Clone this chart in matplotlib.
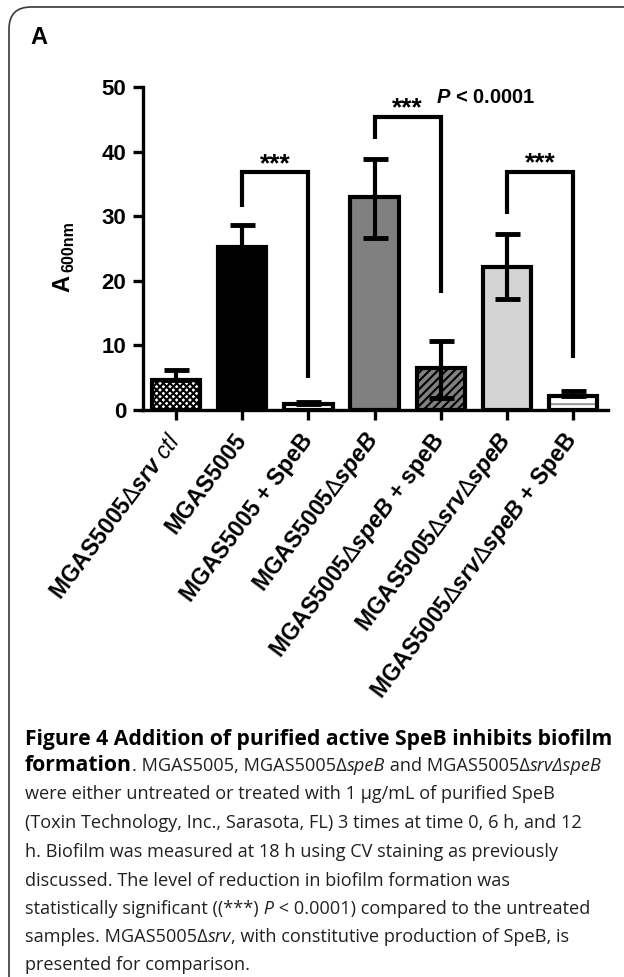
import numpy as np
import matplotlib
matplotlib.use('Agg')
import matplotlib.pyplot as plt
from matplotlib.patches import FancyBboxPatch

# ============================================
# 数据
# ============================================
tri = r'$\mathtt{∆}$'
groups = [r'MGAS5005' + tri + r'$\mathit{srv}$ $\mathsf{ctl}$',
          'MGAS5005',
          'MGAS5005 + SpeB',
          r'MGAS5005' + tri + r'$\mathit{speB}$',
          r'MGAS5005' + tri + r'$\mathit{speB}$ + speB',
          r'MGAS5005' + tri + r'$\mathit{srv}$' + tri + r'$\mathit{speB}$',
          r'MGAS5005' + tri + r'$\mathit{srv}$' + tri + r'$\mathit{speB}$ + SpeB']
values = [4.7, 25.3, 1.0, 32.9, 6.5, 22.2, 2.2]
err_lo = [0, 0, 0, 6.2, 4.6, 5.0, 0]
err_hi = [1.5, 3.3, 0.2, 5.9, 4.2, 5.0, 0.8]

# 显著性括号 (左柱, 右柱, 顶部, 左腿终点, 右腿终点)
br_left = [1, 3, 5]
br_right = [2, 4, 6]
br_top = [36.8, 45.4, 36.9]
br_left_end = [31.5, 41.9, 30.3]
br_right_end = [4.95, 18.1, 8.1]
star_text = '***'
p_text = r'$P$ < 0.0001'

yticks = [0, 10, 20, 30, 40, 50]

caption = [
    [("Figure 4 Addition of purified active SpeB inhibits biofilm", 'normal', 'bold')],
    [("formation", 'normal', 'bold'), (". MGAS5005, MGAS5005Δ", 'normal', 'normal'),
     ("speB", 'italic', 'normal'), (" and MGAS5005Δ", 'normal', 'normal'),
     ("srvΔspeB", 'italic', 'normal')],
    [("were either untreated or treated with 1 µg/mL of purified SpeB", 'normal', 'normal')],
    [("(Toxin Technology, Inc., Sarasota, FL) 3 times at time 0, 6 h, and 12", 'normal', 'normal')],
    [("h. Biofilm was measured at 18 h using CV staining as previously", 'normal', 'normal')],
    [("discussed. The level of reduction in biofilm formation was", 'normal', 'normal')],
    [("statistically significant ((***)", 'normal', 'normal'), (" P", 'italic', 'normal'),
     (" < 0.0001) compared to the untreated", 'normal', 'normal')],
    [("samples. MGAS5005Δ", 'normal', 'normal'), ("srv", 'italic', 'normal'),
     (", with constitutive production of SpeB, is", 'normal', 'normal')],
    [("presented for comparison.", 'normal', 'normal')],
]

# 样式
faces = ['white', 'black', 'white', '#808080', '#808080', '#d4d4d4', 'white']
hatches = ['xxxxx', None, None, None, '////', None, '--']
hatch_cols = ['black', 'black', 'black', 'black', 'black', 'black', '#9a9a9a']

plt.rcParams['mathtext.fontset'] = 'custom'
plt.rcParams['mathtext.rm'] = 'Liberation Sans:bold'
plt.rcParams['mathtext.it'] = 'Liberation Sans:italic:bold'
plt.rcParams['mathtext.bf'] = 'Liberation Sans:bold'
plt.rcParams['mathtext.sf'] = 'Liberation Sans:italic'
plt.rcParams['mathtext.tt'] = 'DejaVu Sans'
plt.rcParams['mathtext.fallback'] = 'stixsans'
plt.rcParams['hatch.linewidth'] = 1.5

fig = plt.figure(figsize=(6.24, 9.77), dpi=100)

# 背景层: 边框和文字 (像素坐标)
bg = fig.add_axes([0, 0, 1, 1], zorder=-1)
bg.set_xlim(0, 624)
bg.set_ylim(977, 0)
bg.axis('off')
bg.add_patch(FancyBboxPatch((9, 7), 700, 1000, boxstyle='round,pad=0,rounding_size=22',
                            fill=False, edgecolor='#3a3a3a', linewidth=1.2))
bg.text(30, 44, 'A', fontsize=17, weight='bold', family='Liberation Sans', va='baseline')
bg.text(63, 284, 'A', fontsize=17, weight='bold', family='Liberation Sans',
        rotation=90, ha='center', va='center')
bg.text(69, 247, '600nm', fontsize=11.5, weight='bold', family='Liberation Sans',
        rotation=90, ha='center', va='center')

# ============================================
# 主图
# ============================================
ax = fig.add_axes([143 / 624, 1 - 410 / 977, 465 / 624, 323 / 977])
ax.patch.set_alpha(0)
x = np.arange(len(values))
w = 0.73

fill = ax.bar(x, values, w, color=faces, linewidth=0, zorder=2)
for p, h, hc in zip(fill, hatches, hatch_cols):
    if h:
        p.set_hatch(h)
        p.set_edgecolor(hc)
ax.bar(x, values, w, fill=False, edgecolor='black', linewidth=3, zorder=3)
ax.errorbar(x, values, yerr=[err_lo, err_hi], fmt='none', ecolor='black',
            elinewidth=3, capsize=9, capthick=3.5, zorder=4)

for l, r, t, le, re in zip(br_left, br_right, br_top, br_left_end, br_right_end):
    ax.plot([l, l, r, r], [le, t, t, re], color='black', lw=3, zorder=5,
            solid_joinstyle='miter', solid_capstyle='butt')
    ax.text((l + r) / 2, t + 0.2, star_text, ha='center', va='baseline',
            fontsize=19, weight='bold', family='Liberation Sans')
ax.text(3.93, 48.3, p_text, ha='left', va='center', fontsize=14.5, weight='bold',
        family='Liberation Sans')

ax.set_xlim(-0.5, 6.53)
ax.set_ylim(0, 50)
ax.set_yticks(yticks)
ax.set_yticklabels([str(v) for v in yticks], fontsize=16, weight='bold', family='Liberation Sans')
ax.set_xticks(x)
ax.set_xticklabels(groups, rotation=53, ha='right', va='center', rotation_mode='anchor',
                   fontsize=16.5, weight='bold', family='Liberation Sans')
ax.tick_params(axis='both', direction='out', length=7, width=2.4)
ax.tick_params(axis='x', pad=12)
ax.tick_params(axis='y', pad=5)
for s in ['top', 'right']:
    ax.spines[s].set_visible(False)
for s in ['left', 'bottom']:
    ax.spines[s].set_linewidth(2.4)

# ============================================
# 图注
# ============================================
renderer = fig.canvas.get_renderer()
line_y = [745, 771, 799, 828, 857, 886, 914, 942, 970]
for yy, parts in zip(line_y, caption):
    xx = 25
    for s, st, wt in parts:
        size = 15.2 if wt == 'bold' else 13.1
        t = bg.text(xx, yy, s, fontsize=size, style=st, weight=wt, family='Open Sans',
                    ha='left', va='baseline', color='black' if wt == 'bold' else '#231f20')
        xx += t.get_window_extent(renderer=renderer).width

plt.savefig('out.png', dpi=100)
